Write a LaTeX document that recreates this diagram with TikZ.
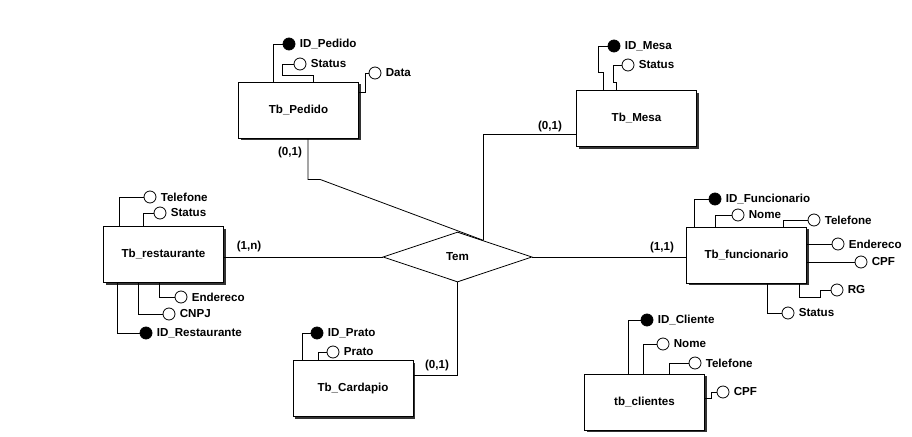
\documentclass[tikz,border=0pt]{standalone}
\usepackage{fontspec}
\setmainfont{Liberation Sans}
\usetikzlibrary{arrows,shapes.geometric,shadows,calc}

\begin{document}
\begin{tikzpicture}[x=1pt,y=-1pt,line width=0.8pt]
		\tikzset{font=\fontsize{11.6}{13}\selectfont\bfseries}
		\tikzset{entity/.style = {shape=rectangle,draw,fill=white,minimum width=120pt,minimum height=56pt,
			drop shadow={shadow xshift=2pt,shadow yshift=-2pt,fill=black!80,opacity=1}}}
		\tikzset{rel/.style = {shape=diamond,draw,fill=white,inner sep=0pt,minimum width=149pt,minimum height=50pt}}
		\tikzset{attr/.style = {shape=circle,draw,fill=white,inner sep=0pt,minimum size=12pt}}
		\tikzset{keyattr/.style = {attr,fill=black}}
		\tikzset{attrtext/.style = {inner sep=1pt,label distance=3pt}}
		\tikzset{card/.style = {inner sep=0pt}}
		\useasboundingbox (0,0) rectangle (912,436);
		% entities
		\node[entity] (pedido) at (298.5,110) {Tb\_Pedido};
		\node[entity] (mesa) at (636.5,118.5) {Tb\_Mesa};
		\node[entity] (func) at (746.5,255) {Tb\_funcionario};
		\node[entity] (rest) at (163.5,254.5) {Tb\_restaurante};
		\node[entity] (cardapio) at (353,388.5) {Tb\_Cardapio};
		\node[entity] (clientes) at (644.5,402) {tb\_clientes};
		\node[rel] (tem) at (457.5,257) {Tem};
		\coordinate (temne) at ($(tem.north)!0.347!(tem.east)$);

		% attributes
		\node[keyattr,label={[attrtext]right:ID\_Pedido}] (idpedido) at (289,44) {};
		\node[attr,label={[attrtext]right:Status}] (stpedido) at (300,64) {};
		\node[attr,label={[attrtext]right:Data}] (datapedido) at (375,73) {};

		\node[keyattr,label={[attrtext]right:ID\_Mesa}] (idmesa) at (614,46) {};
		\node[attr,label={[attrtext]right:Status}] (stmesa) at (628,65) {};

		\node[keyattr,label={[attrtext]right:ID\_Funcionario}] (idfunc) at (715,199) {};
		\node[attr,label={[attrtext]right:Nome}] (nomefunc) at (738,215) {};
		\node[attr,label={[attrtext]right:Telefone}] (telfunc) at (814,220) {};
		\node[attr,label={[attrtext]right:Endereco}] (endfunc) at (838,244) {};
		\node[attr,label={[attrtext]right:CPF}] (cpffunc) at (861,262) {};
		\node[attr,label={[attrtext]right:RG}] (rgfunc) at (837,290) {};
		\node[attr,label={[attrtext]right:Status}] (stfunc) at (788,313) {};

		\node[attr,label={[attrtext]right:Telefone}] (telrest) at (150,197) {};
		\node[attr,label={[attrtext]right:Status}] (strest) at (160,213) {};
		\node[attr,label={[attrtext]right:Endereco}] (endrest) at (181,297) {};
		\node[attr,label={[attrtext]right:CNPJ}] (cnpjrest) at (169,314) {};
		\node[keyattr,label={[attrtext]right:ID\_Restaurante}] (idrest) at (146,333) {};

		\node[keyattr,label={[attrtext]right:ID\_Prato}] (idprato) at (317,333) {};
		\node[attr,label={[attrtext]right:Prato}] (prato) at (333,352) {};

		\node[keyattr,label={[attrtext]right:ID\_Cliente}] (idcli) at (647,320) {};
		\node[attr,label={[attrtext]right:Nome}] (nomecli) at (663,344) {};
		\node[attr,label={[attrtext]right:Telefone}] (telcli) at (695,363) {};
		\node[attr,label={[attrtext]right:CPF}] (cpfcli) at (723,392) {};

		% cardinalities
		\node[card] (cpedido) at (290,152) {(0,1)};
		\node[card] (cmesa) at (550,126) {(0,1)};
		\node[card] (crest) at (249,246) {(1,n)};
		\node[card] (cfunc) at (662,247) {(1,1)};
		\node[card] (ccardapio) at (437,365) {(0,1)};

		%edges
		\draw ([xshift=9.5pt]pedido.south) -- ++(0,41) -- ++(12,0) -- (temne);
		\draw ([yshift=-15.5pt]mesa.west) -| (temne);
		\draw (tem.west -| rest.east) -- (tem.west);
		\draw (tem.east) -- (tem.east -| func.west);
		\draw ([yshift=13.5pt]cardapio.east) -| (tem.south);

		\draw ([xshift=-25.5pt]pedido.north) |- (idpedido);
		\draw ([xshift=14.5pt]pedido.north) |- ++(-31,-6) |- (stpedido);
		\draw ([yshift=18pt]pedido.east) -- ++(6,0) |- (datapedido);

		\draw ([xshift=-33.5pt]mesa.north) |- ++(-5,-18) |- (idmesa);
		\draw ([xshift=-20.5pt]mesa.north) |- ++(-3,-8) |- (stmesa);

		\draw ([xshift=-52.5pt]func.north) |- (idfunc);
		\draw ([xshift=-31.5pt]func.north) |- (nomefunc);
		\draw ([xshift=36.5pt]func.north) |- (telfunc);
		\draw ([yshift=11pt]func.east) -- (endfunc);
		\draw ([yshift=-7pt]func.east) -- (cpffunc);
		\draw ([xshift=52.5pt]func.south) |- ++(21,14) |- (rgfunc);
		\draw ([xshift=20.5pt]func.south) |- (stfunc);

		\draw ([xshift=-44.5pt]rest.north) |- (telrest);
		\draw ([xshift=-20.5pt]rest.north) |- (strest);
		\draw ([xshift=-4.5pt]rest.south) |- (endrest);
		\draw ([xshift=-25.5pt]rest.south) |- (cnpjrest);
		\draw ([xshift=-46.5pt]rest.south) |- (idrest);

		\draw ([xshift=-51pt]cardapio.north) |- (idprato);
		\draw ([xshift=-35pt]cardapio.north) |- (prato);

		\draw ([xshift=-16.5pt]clientes.north) |- (idcli);
		\draw ([xshift=-1.5pt]clientes.north) |- (nomecli);
		\draw ([xshift=24.5pt]clientes.north) |- (telcli);
		\draw ([yshift=4pt]clientes.east) -- ++(6,0) |- (cpfcli);
		\end{tikzpicture}
\end{document}
